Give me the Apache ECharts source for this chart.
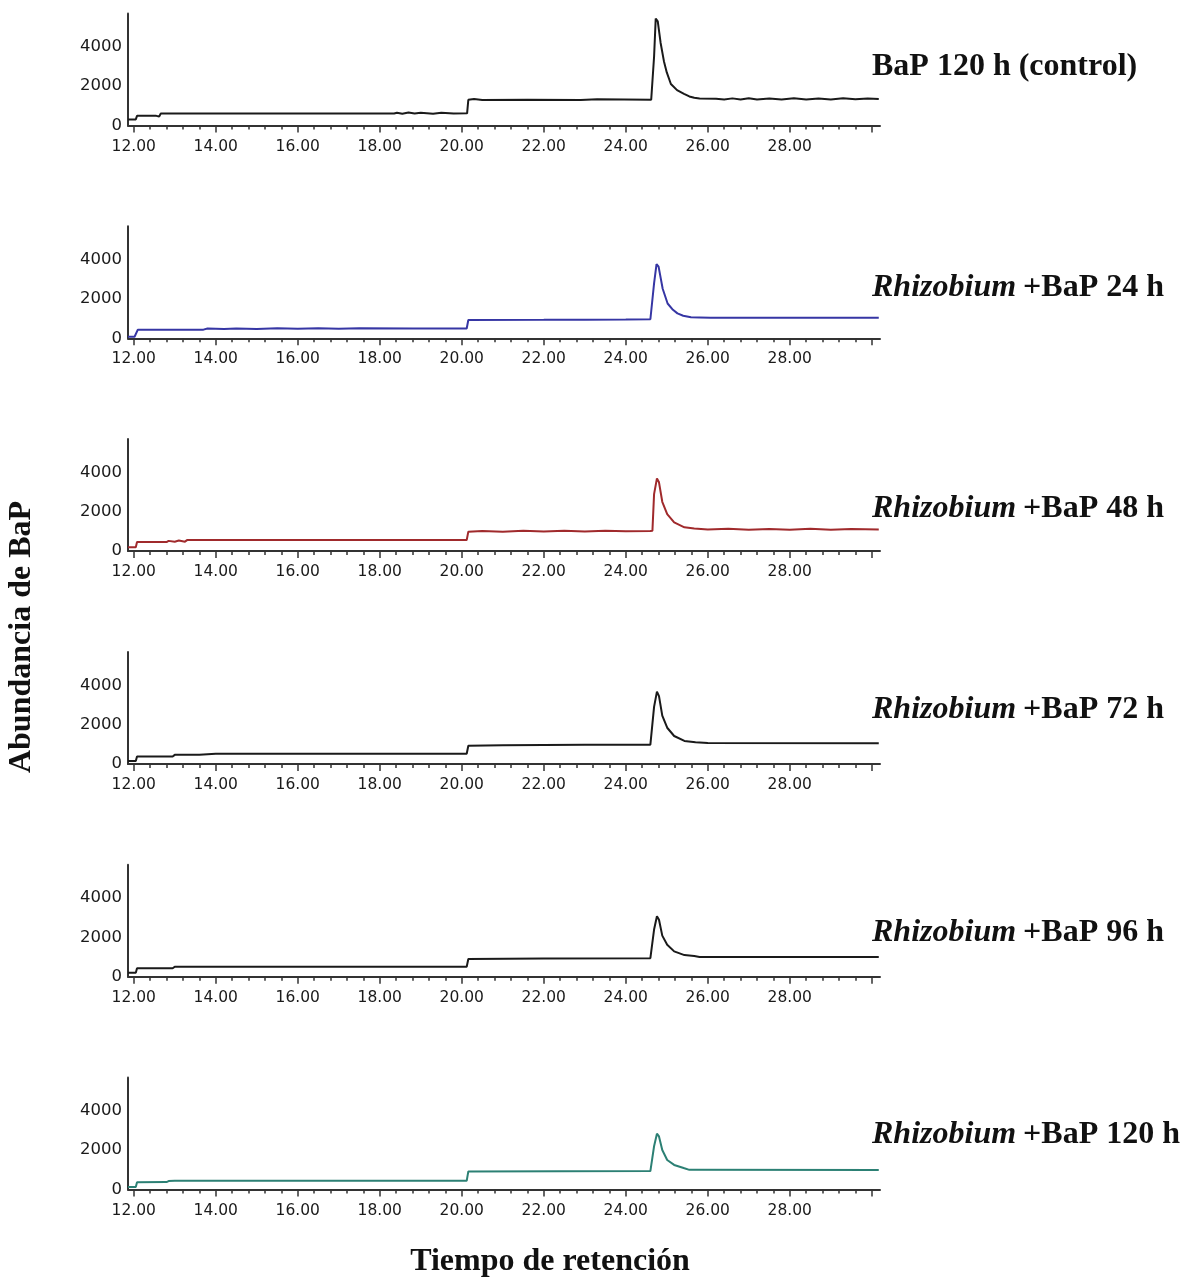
<!DOCTYPE html>
<html>
<head>
<meta charset="utf-8">
<script src="https://cdn.jsdelivr.net/npm/echarts@6.0.0/dist/echarts.min.js"></script>
<style>
  html, body { margin: 0; background: #fff; }
  #chart { width: 1189px; height: 1279px; }
</style>
</head>
<body>
<div id="chart"></div>
<script>
// tick labels
const xLabelTimes = [12, 14, 16, 18, 20, 22, 24, 26, 28];
const xMajorTicks = [12, 14, 16, 18, 20, 22, 24, 26, 28, 30];
const yLabelValues = [0, 2000, 4000];

// panel titles (italic part, plain part)
const panelNames = [
  ['', 'BaP 120 h (control)'],
  ['Rhizobium', '+BaP 24 h'],
  ['Rhizobium', '+BaP 48 h'],
  ['Rhizobium', '+BaP 72 h'],
  ['Rhizobium', '+BaP 96 h'],
  ['Rhizobium', '+BaP 120 h']
];

// [retention time (min), abundance]
const bapControl = [
  [11.86, 310], [12.05, 310], [12.08, 490], [12.55, 490], [12.58, 560], [12.62, 460], [12.66, 610],
  [18.35, 610], [18.42, 650], [18.55, 600], [18.7, 660], [18.85, 610], [19.0, 650], [19.3, 600],
  [19.5, 650], [19.8, 610], [20.13, 620], [20.16, 1310], [20.3, 1350], [20.5, 1300], [21.6, 1310],
  [22.9, 1300], [23.3, 1330], [24.62, 1310], [24.66, 1400], [24.69, 3500], [24.73, 5440],
  [24.78, 5300], [24.85, 4200], [24.93, 3275], [25.0, 2700], [25.1, 2110], [25.25, 1800],
  [25.42, 1610], [25.55, 1480], [25.67, 1410], [25.8, 1370], [26.2, 1360], [26.4, 1320],
  [26.6, 1380], [26.8, 1320], [27.0, 1390], [27.2, 1320], [27.5, 1380], [27.8, 1320],
  [28.1, 1390], [28.4, 1320], [28.7, 1380], [29.0, 1320], [29.3, 1390], [29.6, 1330],
  [29.9, 1380], [30.17, 1350]
];
const rhizo24 = [
  [11.86, 80], [12.02, 80], [12.1, 440], [13.7, 440], [13.8, 500], [14.2, 470], [14.5, 500],
  [15.0, 470], [15.5, 510], [16.0, 480], [16.5, 510], [17.0, 490], [17.5, 510], [18.8, 500],
  [20.12, 500], [20.16, 930], [22.0, 940], [23.0, 950], [24.0, 960], [24.6, 970], [24.64, 1000],
  [24.69, 2800], [24.75, 3780], [24.8, 3650], [24.9, 2520], [25.02, 1770], [25.15, 1450],
  [25.26, 1270], [25.4, 1150], [25.59, 1070], [25.8, 1060], [26.07, 1040], [30.17, 1040]
];
const rhizo48 = [
  [11.86, 200], [12.05, 200], [12.08, 460], [12.8, 460], [12.85, 520], [13.0, 480], [13.1, 540],
  [13.25, 480], [13.3, 560], [20.12, 560], [20.16, 990], [20.5, 1020], [21.0, 990], [21.5, 1030],
  [22.0, 1000], [22.5, 1030], [23.0, 1000], [23.5, 1030], [24.0, 1010], [24.6, 1020],
  [24.65, 1040], [24.69, 2900], [24.76, 3700], [24.81, 3500], [24.89, 2510], [25.01, 1880],
  [25.18, 1460], [25.43, 1210], [25.67, 1150], [26.0, 1100], [26.5, 1140], [27.0, 1090],
  [27.5, 1130], [28.0, 1090], [28.5, 1140], [29.0, 1090], [29.5, 1130], [30.17, 1100]
];
const rhizo72 = [
  [11.86, 150], [12.05, 150], [12.08, 380], [12.95, 380], [13.0, 460], [13.6, 470], [14.0, 520],
  [20.12, 520], [20.16, 920], [21.0, 950], [22.0, 960], [23.0, 970], [24.6, 980], [24.64, 1000],
  [24.69, 2900], [24.76, 3680], [24.81, 3450], [24.89, 2460], [25.01, 1840], [25.18, 1420],
  [25.43, 1170], [25.7, 1100], [26.0, 1060], [30.17, 1050]
];
const rhizo96 = [
  [11.86, 200], [12.05, 200], [12.08, 430], [12.95, 430], [13.0, 510], [20.12, 510],
  [20.16, 900], [22.0, 920], [24.6, 940], [24.64, 960], [24.69, 2400], [24.76, 3080],
  [24.81, 2900], [24.89, 2090], [25.01, 1630], [25.18, 1290], [25.43, 1100], [25.67, 1050],
  [25.8, 1000], [30.17, 1000]
];
const rhizo120 = [
  [11.86, 130], [12.05, 130], [12.08, 370], [12.8, 380], [12.85, 430], [13.0, 440],
  [20.12, 440], [20.16, 920], [24.6, 940], [24.64, 960], [24.69, 2200], [24.76, 2840],
  [24.81, 2700], [24.89, 2010], [25.01, 1500], [25.18, 1250], [25.43, 1080], [25.55, 1000],
  [30.17, 990]
];

const traces = [bapControl, rhizo24, rhizo48, rhizo72, rhizo96, rhizo120];
const traceColors = ['#1a1a1a', '#3636a4', '#a02a2c', '#1a1a1a', '#1a1a1a', '#2c8074'];

const minorTicks = [];
for (let k = 0; k <= 45; k++) minorTicks.push(Math.round((12 + k * 0.4) * 10) / 10);

const chart = echarts.init(document.getElementById('chart'));

const serif = "'Liberation Serif', 'Times New Roman', serif";
const tickFont = "'DejaVu Sans', Verdana, sans-serif";
const axisColor = '#333';

const grids = [], xAxes = [], yAxes = [], series = [], graphics = [];
const labelY = [67, 288, 509, 710, 933, 1135];

traces.forEach((data, i) => {
  const bottomY = 125.5 + i * 212.8;
  grids.push({ left: 128, width: 752, top: bottomY - 112, height: 112 });
  // minor ticks + axis line
  xAxes.push({
    gridIndex: i, type: 'value', position: 'bottom', min: 11.86, max: 30.2,
    axisLine: { show: true, onZero: false, lineStyle: { color: axisColor, width: 2 } },
    axisTick: { show: true, customValues: minorTicks, length: 4, lineStyle: { color: axisColor, width: 1.5 } },
    axisLabel: { show: false },
    splitLine: { show: false }
  });
  // major ticks + labels
  xAxes.push({
    gridIndex: i, type: 'value', position: 'bottom', min: 11.86, max: 30.2,
    axisLine: { show: false, onZero: false },
    axisTick: { show: true, customValues: xMajorTicks, length: 7, lineStyle: { color: axisColor, width: 1.5 } },
    axisLabel: {
      show: true, customValues: xLabelTimes, margin: 13,
      fontFamily: tickFont, fontSize: 15.5, color: '#1a1a1a',
      formatter: v => v.toFixed(2)
    },
    splitLine: { show: false }
  });
  yAxes.push({
    gridIndex: i, type: 'value', min: 0, max: 5700,
    axisLine: { show: true, lineStyle: { color: axisColor, width: 2 } },
    axisTick: { show: false },
    axisLabel: {
      show: true, customValues: yLabelValues, margin: 6,
      fontFamily: tickFont, fontSize: 16.5, color: '#1a1a1a',
      formatter: v => String(v)
    },
    splitLine: { show: false }
  });
  series.push({
    type: 'line', xAxisIndex: i * 2, yAxisIndex: i, data: data,
    showSymbol: false, symbol: 'none',
    lineStyle: { color: traceColors[i], width: 2 },
    silent: true
  });

  const name = panelNames[i];
  graphics.push({
    type: 'text', x: 872, y: labelY[i],
    style: {
      text: name[0] ? '{i|' + name[0] + '}{b|' + name[1] + '}' : '{b|' + name[1] + '}',
      verticalAlign: 'middle',
      rich: {
        i: { fontFamily: serif, fontSize: 32, fontWeight: 'bold', fontStyle: 'italic', fill: '#111', padding: [0, 7, 0, 0] },
        b: { fontFamily: serif, fontSize: 32, fontWeight: 'bold', fill: '#111' }
      }
    }
  });
});

graphics.push({
  type: 'text', x: 22, y: 637, rotation: Math.PI / 2,
  style: {
    text: 'Abundancia de BaP', font: 'bold 32px ' + serif, fill: '#111',
    align: 'center', verticalAlign: 'middle'
  }
});
graphics.push({
  type: 'text', x: 550, y: 1262,
  style: {
    text: 'Tiempo de retención', font: 'bold 32px ' + serif, fill: '#111',
    align: 'center', verticalAlign: 'middle'
  }
});

chart.setOption({
  animation: false,
  backgroundColor: '#fff',
  grid: grids,
  xAxis: xAxes,
  yAxis: yAxes,
  series: series,
  graphic: graphics
});
</script>
</body>
</html>
